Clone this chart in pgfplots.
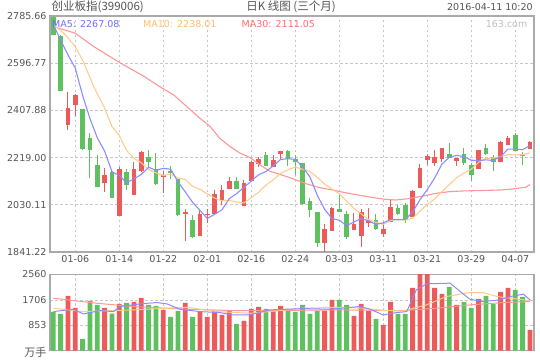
\documentclass[border=0pt]{standalone}
\usepackage{pgfplots}
\usepackage{pgfplotstable}
\pgfplotsset{compat=1.18}
\usepackage{fontspec}
\setmainfont{DejaVu Sans}
\newfontfamily\cjk{Noto Sans CJK SC}
\definecolor{cred}{RGB}{236,90,90}
\definecolor{cgreen}{RGB}{94,192,94}
\definecolor{cma5}{RGB}{140,140,255}
\definecolor{cma10}{RGB}{255,204,140}
\definecolor{cma30}{RGB}{255,150,150}
\definecolor{tma5}{RGB}{110,110,255}
\definecolor{tma10}{RGB}{255,190,110}
\definecolor{tma30}{RGB}{255,110,110}
\definecolor{cgrid}{RGB}{200,200,200}
\definecolor{cborder}{RGB}{170,170,170}
\definecolor{ctext}{RGB}{85,85,85}

% up (red) candles: index, open, high, low, close, volume
\pgfplotstableread{
i o h l c v
2 2351.1 2482.0 2329.8 2417.9 1842
3 2431.2 2474.0 2385.9 2468.6 1438
7 2116.2 2177.6 2081.5 2150.9 1438
9 1986.7 2183.0 1986.7 2173.6 1573
11 2070.8 2203.0 2070.8 2173.6 1640
12 2166.9 2247.0 2161.6 2241.7 1775
15 2140.2 2164.2 2076.1 2150.9 1371
18 1996.0 2013.4 1886.6 1999.0 1606
20 1906.6 2009.4 1906.6 1993.4 1303
21 1990.0 2014.7 1956.0 1993.4 1135
22 1993.4 2089.5 1993.4 2073.5 1337
23 2046.8 2108.2 2028.1 2089.5 1202
24 2094.8 2142.9 2094.8 2124.2 1337
26 2026.8 2129.5 2026.8 2117.5 1000
27 2126.9 2207.0 2126.9 2201.6 1404
28 2193.6 2223.0 2183.0 2215.0 1472
30 2181.6 2229.7 2181.6 2209.6 1337
31 2232.3 2245.7 2213.6 2245.7 1505
37 1878.6 1953.3 1841.2 1933.3 1337
38 1926.6 2020.0 1926.6 2017.4 1708
41 1930.6 1996.1 1930.6 1953.3 1168
42 1906.6 2014.7 1862.6 2001.4 1573
43 1958.7 2017.4 1942.6 1969.3 1337
45 1913.3 1956.0 1902.6 1933.3 865
46 1960.0 2049.4 1960.0 2020.1 1640
49 1982.7 2089.5 1982.7 2084.2 2112
50 2097.5 2193.6 2097.5 2177.6 2600
51 2209.6 2233.7 2189.6 2225.7 2600
52 2199.0 2249.7 2187.0 2221.6 2112
53 2212.3 2257.7 2203.0 2257.7 1910
55 2207.0 2217.6 2185.6 2217.6 1539
58 2172.3 2249.7 2172.3 2249.7 1741
61 2203.0 2287.0 2203.0 2281.7 1977
62 2271.0 2305.7 2271.0 2297.7 2112
65 2252.3 2287.0 2252.3 2281.7 697
}\tup

% down (green) candles
\pgfplotstableread{
i o h l c v
0 2783.6 2785.6 2708.0 2711.6 1303
1 2706.0 2710.0 2487.3 2487.3 1236
4 2412.5 2412.5 2249.7 2252.3 394
5 2297.7 2316.4 2137.6 2249.7 1674
6 2189.6 2228.3 2102.8 2102.8 1539
8 2161.6 2166.9 2058.8 2058.8 1247
10 2161.6 2174.9 2089.5 2110.9 1606
13 2223.0 2249.7 2183.0 2201.6 1539
14 2173.6 2239.0 2110.9 2112.2 1505
16 2165.6 2185.6 2135.0 2156.2 1135
17 2134.9 2134.9 1986.7 1990.7 1337
19 1969.3 1990.0 1897.0 1901.2 1135
25 2124.2 2142.9 2094.8 2094.8 899
29 2229.7 2241.7 2187.0 2187.0 1404
32 2245.7 2249.7 2187.0 2215.0 1404
33 2215.0 2228.3 2150.9 2203.0 1303
34 2197.6 2197.6 2028.1 2033.4 1539
35 2044.1 2056.1 1980.0 2010.7 1236
36 2001.4 2001.4 1862.6 1878.6 1337
39 2012.1 2068.1 2002.7 2002.7 1708
40 1993.4 2004.0 1894.5 1901.2 1539
44 1969.3 1993.4 1929.3 1933.3 1067
47 2016.0 2029.4 1989.4 1994.7 1236
48 2028.1 2038.8 1958.7 1974.7 1236
54 2233.7 2276.4 2217.6 2217.6 2145
56 2233.7 2257.7 2189.6 2199.0 1640
57 2189.6 2199.0 2126.9 2150.9 1438
59 2257.7 2273.7 2229.7 2233.7 1842
60 2221.6 2228.3 2166.9 2203.0 1573
63 2309.7 2316.4 2247.0 2247.0 2044
64 2231.0 2243.0 2191.0 2225.7 1809
}\tdown

\begin{document}
\begin{tikzpicture}
\path[use as bounding box] (0,0) rectangle (540pt,360pt);
\pgfplotsset{
  kbase/.style={scale only axis, width=484pt, xmin=-0.45, xmax=65.55,
    axis line style={draw=cborder, line width=1.2pt},
    major tick length=0pt,
    grid=major,
    grid style={draw=cgrid, line width=0.7pt, dash pattern=on 2.5pt off 2.5pt},
    xtick={3,9,...,63},
    tick label style={font=\fontsize{9.5}{11}\selectfont, text=ctext},
  },
  body/.style={only marks, mark size=0pt, mark options={draw=none, fill=none}, forget plot,
    error bars/.cd, y dir=both, y explicit, error mark=none,
    error bar style={line width=4.8pt, draw=#1, solid}},
  wick/.style={only marks, mark size=0pt, mark options={draw=none, fill=none}, forget plot,
    error bars/.cd, y dir=both, y explicit, error mark=none,
    error bar style={line width=1pt, draw=#1, solid}},
}
% ---------------- main panel ----------------
\begin{axis}[kbase, at={(50pt,108pt)}, anchor=south west, height=236pt,
  ymin=1841.22, ymax=2785.66,
  ytick={1841.22,2030.11,2219.00,2407.88,2596.77,2785.66},
  yticklabels={1841.22,2030.11,2219.00,2407.88,2596.77,2785.66},
  xticklabels={01-06,01-14,01-22,02-01,02-16,02-24,03-03,03-11,03-21,03-29,04-07},
]
\addplot[wick=cred] table[x=i, y expr={(\thisrow{h}+\thisrow{l})/2}, y error expr={(\thisrow{h}-\thisrow{l})/2}] \tup;
\addplot[body=cred] table[x=i, y expr={(\thisrow{o}+\thisrow{c})/2}, y error expr={max(abs(\thisrow{c}-\thisrow{o})/2,2)}] \tup;
\addplot[wick=cgreen] table[x=i, y expr={(\thisrow{h}+\thisrow{l})/2}, y error expr={(\thisrow{h}-\thisrow{l})/2}] \tdown;
\addplot[body=cgreen] table[x=i, y expr={(\thisrow{o}+\thisrow{c})/2}, y error expr={max(abs(\thisrow{c}-\thisrow{o})/2,2)}] \tdown;
% MA30
\addplot[cma30, line width=1.1pt] coordinates {
(0,2743.6) (3,2716.9) (5.5,2663.5) (9.2,2596.8) (12.4,2543.4) (14.5,2503.3) (16.4,2469.9)
(18.2,2423.2) (20,2376.5) (21.4,2343.1) (22.7,2296.4) (24.1,2263) (25.5,2236.3) (26.8,2220)
(28.2,2189.6) (29.5,2165) (30.9,2152) (32.5,2136.2) (34.3,2116.2) (36.1,2100.2) (38,2089.5)
(39.8,2078.8) (41.5,2069.5) (43.4,2060.1) (45.2,2052.1) (46.7,2049.4) (48.5,2054.8) (50.4,2065.5)
(52.2,2076.1) (54,2082.8) (55.8,2085.5) (57.6,2086.8) (59.4,2088.1) (61.1,2089.5) (62.6,2093.5)
(64.4,2100.2) (65,2111.05)};
% MA10
\addplot[cma10, line width=1.1pt] coordinates {
(0,2750) (1.45,2716.9) (3,2663.5) (4.2,2596.8) (5.5,2503.3) (6.9,2423.2) (8,2343.1)
(9,2307.4) (10,2247.3) (11,2216.0) (12,2198.3) (13,2171.6) (14,2157.6) (15,2147.7) (16,2153.1)
(17,2137.0) (18,2131.1) (19,2103.8) (20,2092.1) (21,2074.0) (22,2057.2) (23,2046.0) (24,2047.2)
(25,2041.6) (26,2037.7) (27,2058.8) (28,2080.4) (29,2109.0) (30,2130.6) (31,2155.9) (32,2170.0)
(33,2181.4) (34,2172.3) (35,2163.9) (36,2140.0) (37,2113.2) (38,2093.4) (39,2074.9) (40,2044.1)
(41,2014.9) (42,1993.5) (43,1970.2) (44,1960.1) (45,1952.4) (46,1966.6) (47,1972.7) (48,1968.4)
(49,1976.6) (50,2004.2) (51,2031.5) (52,2053.5) (53,2082.3) (54,2110.7) (55,2139.2) (56,2157.1)
(57,2172.7) (58,2200.2) (59,2215.1) (60,2217.7) (61,2223.3) (62,2230.9) (63,2229.8) (64,2230.6)
(65,2238.0)};
% MA5
\addplot[cma5, line width=1.1pt] coordinates {
(0,2750) (1,2690) (2,2630) (3,2576.7) (4,2467.5) (5,2375.2) (6,2298.3) (7,2244.9) (8,2162.9)
(9,2147.2) (10,2119.4) (11,2133.6) (12,2151.7) (13,2180.3) (14,2168.0) (15,2176.0) (16,2172.5)
(17,2122.3) (18,2081.8) (19,2039.6) (20,2008.1) (21,1975.5) (22,1992.1) (23,2010.2) (24,2054.8)
(25,2075.1) (26,2099.9) (27,2125.5) (28,2150.6) (29,2163.2) (30,2186.1) (31,2211.8) (32,2214.5)
(33,2212.1) (34,2181.3) (35,2141.6) (36,2068.1) (37,2011.8) (38,1974.7) (39,1968.5) (40,1946.6)
(41,1961.6) (42,1975.2) (43,1965.6) (44,1951.7) (45,1958.1) (46,1971.5) (47,1970.1) (48,1971.2)
(49,2001.4) (50,2050.3) (51,2091.4) (52,2136.8) (53,2193.4) (54,2220.0) (55,2228.0) (56,2222.7)
(57,2208.6) (58,2207.0) (59,2210.2) (60,2207.3) (61,2223.8) (62,2253.2) (63,2252.6) (64,2251.0)
(65,2267.08)};
\end{axis}
% ---------------- volume panel ----------------
\begin{axis}[kbase, at={(50pt,9.3pt)}, anchor=south west, height=76.2pt,
  ymin=0, ymax=2560, ytick={853,1706,2560}, yticklabels={853,1706,2560},
  xticklabels={},
]
\addplot[ybar, bar width=4.8pt, bar shift=0pt, fill=cred, draw=none, forget plot] table[x=i, y=v] \tup;
\addplot[ybar, bar width=4.8pt, bar shift=0pt, fill=cgreen, draw=none, forget plot] table[x=i, y=v] \tdown;
\addplot[cma30, line width=1pt] coordinates {
(0,1764) (5.9,1595) (10.9,1483) (18.2,1393) (24.5,1348) (29.5,1348) (38.6,1371) (47.7,1348)
(52.3,1427) (56.8,1539) (61.4,1618) (65,1651)};
\addplot[cma10, line width=1pt] coordinates {
(0,1427) (4.1,1314) (10.9,1371) (15.5,1427) (18.2,1460) (22.3,1314) (26.8,1258) (29.5,1314)
(34.1,1427) (38.6,1460) (42.3,1427) (45,1348) (47.7,1337) (50.9,1539) (53.6,1820) (56.8,1955)
(58.6,1955) (60.5,1820) (62.3,1764) (65,1685)};
\addplot[cma5, line width=1pt] coordinates {
(0,1314) (2.7,1393) (4.1,1236) (6.4,1348) (8.2,1314) (9.1,1483) (11.8,1573) (14.1,1618)
(15.5,1573) (17.3,1393) (20,1314) (22.7,1281) (24.5,1202) (26.8,1202) (29.5,1371) (34.1,1415)
(37.7,1393) (41.8,1483) (43.2,1393) (45,1202) (46.8,1281) (48.2,1314) (49.5,2044) (50.9,2247)
(54.1,2269) (55.5,1988) (56.8,1730) (58.6,1651) (60.9,1708) (62.3,1820) (64.1,1899) (65,1708)};
\end{axis}
% ---------------- texts ----------------
\node[anchor=east, inner sep=0pt, text=ctext, font=\cjk\fontsize{11}{12}\selectfont] at (46.5pt,8pt) {万手};
\node[anchor=west, inner sep=0pt, text=ctext, font=\cjk\fontsize{11.5}{12}\selectfont] at (51.5pt,353pt) {创业板指(399006)};
\node[inner sep=0pt, text=ctext, font=\cjk\fontsize{11.5}{12}\selectfont] at (291pt,353pt) {日K 线图 (三个月)};
\node[anchor=east, inner sep=0pt, text=ctext, font=\fontsize{9.5}{11}\selectfont] at (533pt,353pt) {2016-04-11 10:20};
\node[anchor=west, inner sep=0pt, text=tma5, font=\fontsize{9.5}{11}\selectfont] at (52pt,336pt) {MA5: 2267.08};
\node[anchor=west, inner sep=0pt, text=tma10, font=\fontsize{9.5}{11}\selectfont] at (143pt,336pt) {MA10: 2238.01};
\node[anchor=west, inner sep=0pt, text=tma30, font=\fontsize{9.5}{11}\selectfont] at (241.5pt,336pt) {MA30: 2111.05};
\node[anchor=east, inner sep=0pt, text=black!25, font=\fontsize{9.5}{11}\selectfont] at (527.5pt,336pt) {163.com};
\end{tikzpicture}
\end{document}
